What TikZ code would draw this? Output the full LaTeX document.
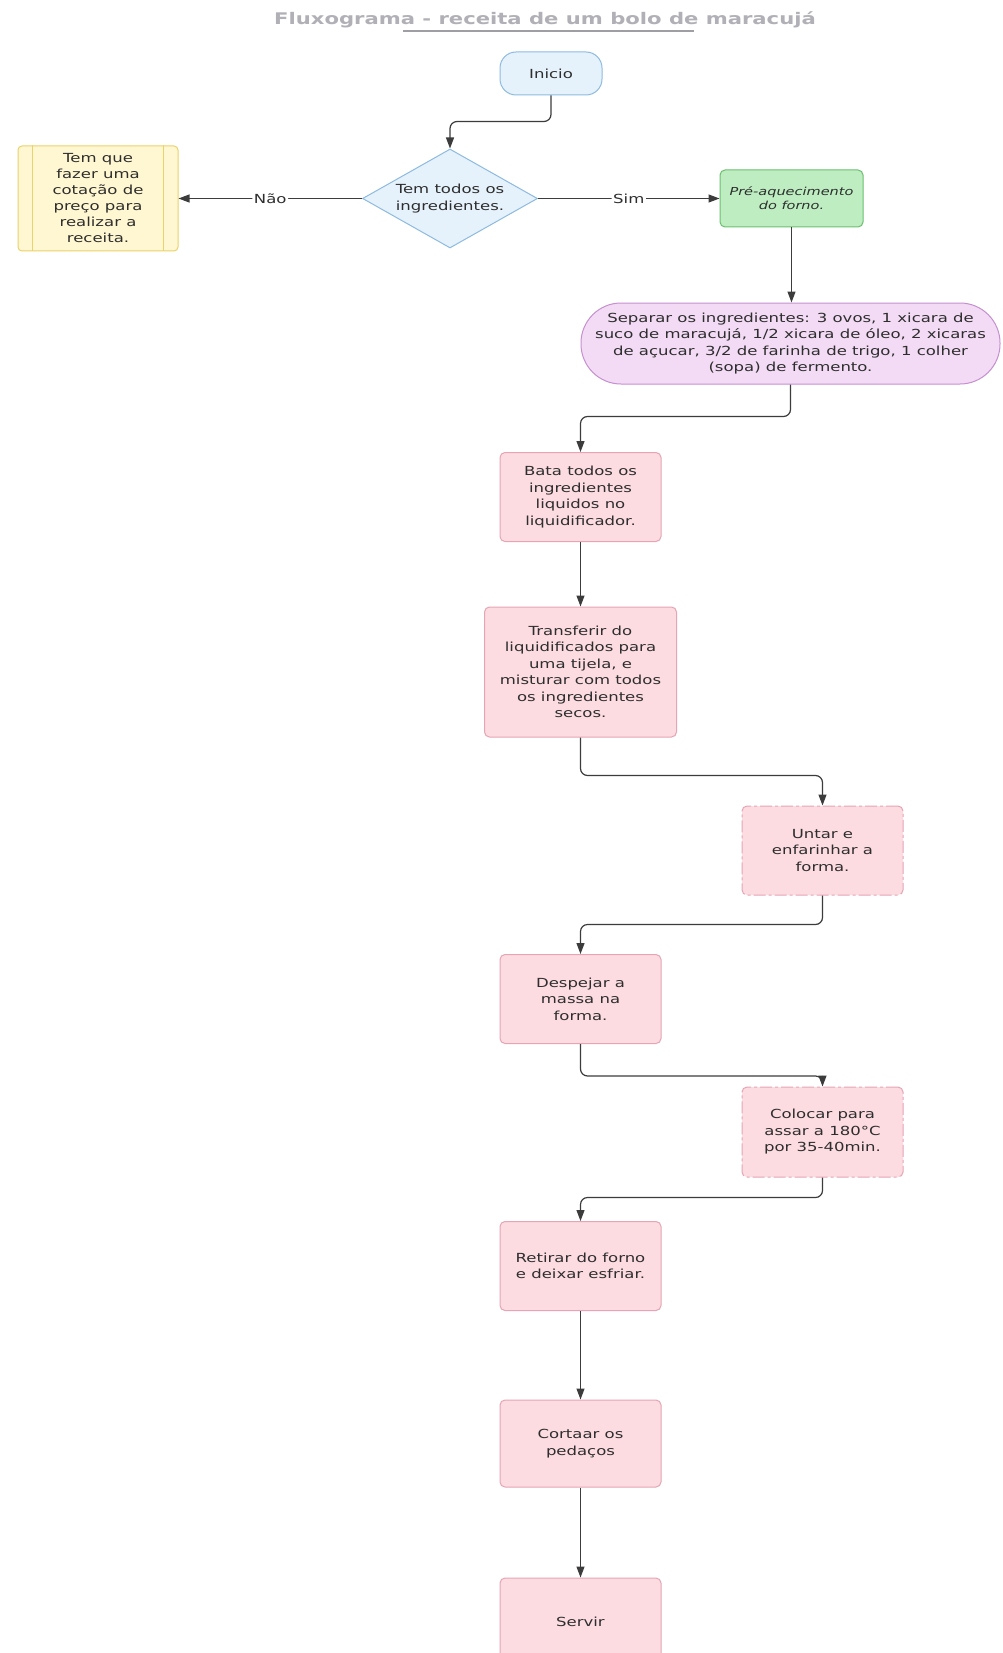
\documentclass[tikz,border=0pt]{standalone}
\usepackage{fontspec}
\setmainfont[FakeStretch=1.32]{DejaVu Sans}
\usetikzlibrary{shapes.geometric,arrows.meta}
\definecolor{txt}{HTML}{2E2E2E}
\definecolor{arrowc}{HTML}{3C3C3C}
\definecolor{bluefill}{HTML}{E6F2FB}
\definecolor{blueline}{HTML}{8DBBE0}
\definecolor{yelfill}{HTML}{FFF7D1}
\definecolor{yelline}{HTML}{EBD26A}
\definecolor{greenfill}{HTML}{BDEDC0}
\definecolor{greenline}{HTML}{6CC070}
\definecolor{purfill}{HTML}{F3DBF5}
\definecolor{purline}{HTML}{C690D0}
\definecolor{pinkfill}{HTML}{FCDCE1}
\definecolor{pinkline}{HTML}{E6A5B4}
\definecolor{titlec}{HTML}{B0B0B6}
\begin{document}
\begin{tikzpicture}[x=1pt,y=-1pt,
  base/.style={font=\fontsize{12.5}{16.5}\selectfont, text=txt, align=center, inner sep=2pt, line width=1pt},
  startbox/.style={base, rectangle, rounded corners=16pt, draw=blueline, fill=bluefill, minimum width=102pt, minimum height=43pt},
  decbox/.style={base, diamond, aspect=1.77, draw=blueline, fill=bluefill, inner sep=0pt, minimum width=175pt, minimum height=99pt},
  predef/.style={base, font=\fontsize{12.5}{16}\selectfont, rectangle, rounded corners=4pt, draw=yelline, fill=yelfill, minimum width=160pt, minimum height=105pt},
  greenbox/.style={base, font=\fontsize{11}{14}\selectfont\itshape, rectangle, rounded corners=5pt, draw=greenline, fill=greenfill, minimum width=143pt, minimum height=57pt},
  purbox/.style={base, rectangle, rounded corners=40pt, draw=purline, fill=purfill, minimum width=419pt, minimum height=81pt},
  procbox/.style={base, rectangle, rounded corners=5pt, draw=pinkline, fill=pinkfill, minimum width=161pt, minimum height=89pt},
  dprocbox/.style={procbox, dash pattern=on 12pt off 3pt on 3pt off 3pt},
  arr/.style={draw=arrowc, line width=1.2pt, rounded corners=7pt, -{Triangle[length=11pt,width=8pt]}},
  lbl/.style={base, fill=white, inner sep=1.5pt}
]
\useasboundingbox (0,0) rectangle (1002,1653);
\clip (0,0) rectangle (1002,1653);
\fill[white] (0,0) rectangle (1002,1653);

% title
\node[font=\fontsize{16}{19}\selectfont\bfseries, text=titlec] (title) at (545,19.5) {Fluxograma - receita de um bolo de maracujá};
\draw[titlec!90!black, line width=1.4pt] (403,31) -- (694,31);

% nodes
\node[startbox] (ini) at (551,73.5) {Inicio};
\node[decbox] (dec) at (450,198.5) {Tem todos os\\ingredientes.};
\node[predef] (quote) at (98,198.5) {Tem que\\fazer uma\\cotação de\\preço para\\realizar a\\receita.};
\draw[yelline, line width=1pt] ([xshift=15pt]quote.north west) -- ([xshift=15pt]quote.south west);
\draw[yelline, line width=1pt] ([xshift=-15pt]quote.north east) -- ([xshift=-15pt]quote.south east);
\node[greenbox] (pre) at (791.5,198.5) {Pré-aquecimento\\do forno.};
\node[purbox] (sep) at (790.5,343.5) {Separar os ingredientes: 3 ovos, 1 xicara de\\suco de maracujá, 1/2 xicara de óleo, 2 xicaras\\de açucar, 3/2 de farinha de trigo, 1 colher\\(sopa) de fermento.};
\node[procbox] (bata) at (580.5,497) {Bata todos os\\ingredientes\\liquidos no\\liquidificador.};
\node[procbox, minimum width=192pt, minimum height=130pt] (transf) at (580.5,672) {Transferir do\\liquidificados para\\uma tijela, e\\misturar com todos\\os ingredientes\\secos.};
\node[dprocbox] (untar) at (822.5,850.5) {Untar e\\enfarinhar a\\forma.};
\node[procbox] (desp) at (580.5,999) {Despejar a\\massa na\\forma.};
\node[dprocbox, minimum height=90pt] (coloc) at (822.5,1132) {Colocar para\\assar a 180°C\\por 35-40min.};
\node[procbox] (retirar) at (580.5,1266) {Retirar do forno\\e deixar esfriar.};
\node[procbox, minimum height=87pt] (cortaar) at (580.5,1443.5) {Cortaar os\\pedaços};
\node[procbox, minimum height=88pt] (servir) at (580.5,1622) {Servir};

% connectors
\draw[arr] (ini.south) -- ++(0,26) -| (dec.north);
\draw[arr] (dec.west) -- node[lbl] {Não} (dec.west -| quote.east);
\draw[arr] (dec.east) -- node[lbl] {Sim} (dec.east -| pre.west);
\draw[arr] (pre.south) -- (pre.south |- sep.north);
\draw[arr] (sep.south) -- ++(0,32) -| (bata.north);
\draw[arr] (bata.south) -- (transf.north);
\draw[arr] (transf.south) -- ++(0,38) -| (untar.north);
\draw[arr] (untar.south) -- ++(0,29) -| (desp.north);
\draw[arr] (desp.south) -- ++(0,32) -| (coloc.north);
\draw[arr] (coloc.south) -- ++(0,20) -| (retirar.north);
\draw[arr] (retirar.south) -- (cortaar.north);
\draw[arr] (cortaar.south) -- (servir.north);
\end{tikzpicture}
\end{document}
